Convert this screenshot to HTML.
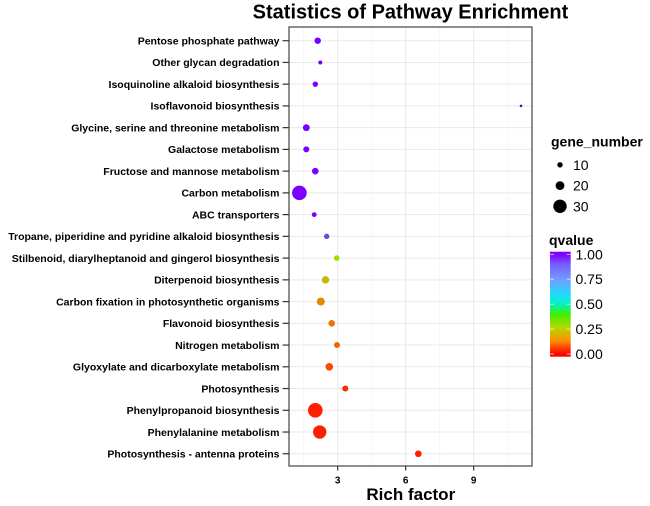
<!DOCTYPE html>
<html>
<head>
<meta charset="utf-8">
<style>
  html,body{margin:0;padding:0;background:#fff;}
  svg{display:block;}
  text{font-family:"Liberation Sans",Arial,Helvetica,sans-serif;fill:#000;}
  .yl{font-size:10.5px;font-weight:bold;text-anchor:end;}
</style>
</head>
<body>
<svg width="650" height="506" viewBox="0 0 650 506" xmlns="http://www.w3.org/2000/svg">
  <defs>
    <linearGradient id="qg" x1="0" y1="0" x2="0" y2="1">
      <stop offset="0" stop-color="#8000ff"/>
      <stop offset="0.025" stop-color="#8000ff"/>
      <stop offset="0.12" stop-color="#7a5cff"/>
      <stop offset="0.274" stop-color="#6fa0ff"/>
      <stop offset="0.41" stop-color="#20dcff"/>
      <stop offset="0.50" stop-color="#00f2c0"/>
      <stop offset="0.60" stop-color="#40f000"/>
      <stop offset="0.725" stop-color="#b8d800"/>
      <stop offset="0.85" stop-color="#ff8c00"/>
      <stop offset="0.975" stop-color="#ff0000"/>
      <stop offset="1" stop-color="#ff0000"/>
    </linearGradient>
  </defs>

  <!-- Title -->
  <text x="410.5" y="18.5" font-size="20" font-weight="bold" text-anchor="middle">Statistics of Pathway Enrichment</text>

  <!-- Panel background -->
  <rect x="289" y="27" width="243" height="439" fill="#fff"/>

  <!-- minor vertical grid -->
  <g stroke="#f3f3f3" stroke-width="0.8">
    <line x1="303.7" y1="27" x2="303.7" y2="466"/>
    <line x1="371.7" y1="27" x2="371.7" y2="466"/>
    <line x1="439.7" y1="27" x2="439.7" y2="466"/>
    <line x1="507.7" y1="27" x2="507.7" y2="466"/>
  </g>
  <!-- major grid -->
  <g stroke="#e9e9e9" stroke-width="1">
    <line x1="337.7" y1="27" x2="337.7" y2="466"/>
    <line x1="405.7" y1="27" x2="405.7" y2="466"/>
    <line x1="473.7" y1="27" x2="473.7" y2="466"/>
    <line x1="289" y1="40.7" x2="532" y2="40.7"/>
    <line x1="289" y1="62.44" x2="532" y2="62.44"/>
    <line x1="289" y1="84.18" x2="532" y2="84.18"/>
    <line x1="289" y1="105.92" x2="532" y2="105.92"/>
    <line x1="289" y1="127.66" x2="532" y2="127.66"/>
    <line x1="289" y1="149.4" x2="532" y2="149.4"/>
    <line x1="289" y1="171.14" x2="532" y2="171.14"/>
    <line x1="289" y1="192.88" x2="532" y2="192.88"/>
    <line x1="289" y1="214.62" x2="532" y2="214.62"/>
    <line x1="289" y1="236.36" x2="532" y2="236.36"/>
    <line x1="289" y1="258.1" x2="532" y2="258.1"/>
    <line x1="289" y1="279.84" x2="532" y2="279.84"/>
    <line x1="289" y1="301.58" x2="532" y2="301.58"/>
    <line x1="289" y1="323.32" x2="532" y2="323.32"/>
    <line x1="289" y1="345.06" x2="532" y2="345.06"/>
    <line x1="289" y1="366.8" x2="532" y2="366.8"/>
    <line x1="289" y1="388.54" x2="532" y2="388.54"/>
    <line x1="289" y1="410.28" x2="532" y2="410.28"/>
    <line x1="289" y1="432.02" x2="532" y2="432.02"/>
    <line x1="289" y1="453.76" x2="532" y2="453.76"/>
  </g>

  <!-- Points -->
  <g>
    <circle cx="317.7" cy="40.7" r="3.2" fill="#7a00ff"/>
    <circle cx="320.3" cy="62.44" r="2.0" fill="#7000f8"/>
    <circle cx="315.3" cy="84.18" r="2.7" fill="#7a00ff"/>
    <circle cx="521" cy="105.92" r="1.3" fill="#5a00d0"/>
    <circle cx="306.3" cy="127.66" r="3.4" fill="#7a00ff"/>
    <circle cx="306.3" cy="149.4" r="3.0" fill="#7a00ff"/>
    <circle cx="315.3" cy="171.14" r="3.3" fill="#7a00ff"/>
    <circle cx="299.4" cy="192.88" r="7.3" fill="#7a00ff"/>
    <circle cx="314.2" cy="214.62" r="2.4" fill="#7a00ff"/>
    <circle cx="326.7" cy="236.36" r="2.7" fill="#6a4ae6"/>
    <circle cx="336.7" cy="258.1" r="2.8" fill="#9be000"/>
    <circle cx="325.5" cy="279.84" r="3.7" fill="#c8b800"/>
    <circle cx="320.8" cy="301.58" r="4.0" fill="#e38a00"/>
    <circle cx="331.7" cy="323.32" r="3.3" fill="#f07200"/>
    <circle cx="337" cy="345.06" r="3.0" fill="#f56000"/>
    <circle cx="329.3" cy="366.8" r="3.8" fill="#ff4800"/>
    <circle cx="345.3" cy="388.54" r="3.0" fill="#ff2800"/>
    <circle cx="315.3" cy="410.28" r="7.3" fill="#ff2000"/>
    <circle cx="319.7" cy="432.02" r="6.7" fill="#ff1e00"/>
    <circle cx="418.3" cy="453.76" r="3.3" fill="#ff1a00"/>
  </g>

  <!-- Panel border -->
  <rect x="289" y="27" width="243" height="439" fill="none" stroke="#444" stroke-width="1.2"/>

  <!-- Y ticks -->
  <g stroke="#333" stroke-width="1.2">
    <line x1="282.5" y1="40.7" x2="289" y2="40.7"/>
    <line x1="282.5" y1="62.44" x2="289" y2="62.44"/>
    <line x1="282.5" y1="84.18" x2="289" y2="84.18"/>
    <line x1="282.5" y1="105.92" x2="289" y2="105.92"/>
    <line x1="282.5" y1="127.66" x2="289" y2="127.66"/>
    <line x1="282.5" y1="149.4" x2="289" y2="149.4"/>
    <line x1="282.5" y1="171.14" x2="289" y2="171.14"/>
    <line x1="282.5" y1="192.88" x2="289" y2="192.88"/>
    <line x1="282.5" y1="214.62" x2="289" y2="214.62"/>
    <line x1="282.5" y1="236.36" x2="289" y2="236.36"/>
    <line x1="282.5" y1="258.1" x2="289" y2="258.1"/>
    <line x1="282.5" y1="279.84" x2="289" y2="279.84"/>
    <line x1="282.5" y1="301.58" x2="289" y2="301.58"/>
    <line x1="282.5" y1="323.32" x2="289" y2="323.32"/>
    <line x1="282.5" y1="345.06" x2="289" y2="345.06"/>
    <line x1="282.5" y1="366.8" x2="289" y2="366.8"/>
    <line x1="282.5" y1="388.54" x2="289" y2="388.54"/>
    <line x1="282.5" y1="410.28" x2="289" y2="410.28"/>
    <line x1="282.5" y1="432.02" x2="289" y2="432.02"/>
    <line x1="282.5" y1="453.76" x2="289" y2="453.76"/>
    <!-- x ticks -->
    <line x1="337.7" y1="466" x2="337.7" y2="470.5"/>
    <line x1="405.7" y1="466" x2="405.7" y2="470.5"/>
    <line x1="473.7" y1="466" x2="473.7" y2="470.5"/>
  </g>

  <!-- Y labels -->
  <g class="yl">
    <text class="yl" x="279.5" y="44.5">Pentose phosphate pathway</text>
    <text class="yl" x="279.5" y="66.24">Other glycan degradation</text>
    <text class="yl" x="279.5" y="87.98">Isoquinoline alkaloid biosynthesis</text>
    <text class="yl" x="279.5" y="109.72">Isoflavonoid biosynthesis</text>
    <text class="yl" x="279.5" y="131.46">Glycine, serine and threonine metabolism</text>
    <text class="yl" x="279.5" y="153.2">Galactose metabolism</text>
    <text class="yl" x="279.5" y="174.94">Fructose and mannose metabolism</text>
    <text class="yl" x="279.5" y="196.68">Carbon metabolism</text>
    <text class="yl" x="279.5" y="218.42">ABC transporters</text>
    <text class="yl" x="279.5" y="240.16">Tropane, piperidine and pyridine alkaloid biosynthesis</text>
    <text class="yl" x="279.5" y="261.9">Stilbenoid, diarylheptanoid and gingerol biosynthesis</text>
    <text class="yl" x="279.5" y="283.64">Diterpenoid biosynthesis</text>
    <text class="yl" x="279.5" y="305.38">Carbon fixation in photosynthetic organisms</text>
    <text class="yl" x="279.5" y="327.12">Flavonoid biosynthesis</text>
    <text class="yl" x="279.5" y="348.86">Nitrogen metabolism</text>
    <text class="yl" x="279.5" y="370.6">Glyoxylate and dicarboxylate metabolism</text>
    <text class="yl" x="279.5" y="392.34">Photosynthesis</text>
    <text class="yl" x="279.5" y="414.08">Phenylpropanoid biosynthesis</text>
    <text class="yl" x="279.5" y="435.82">Phenylalanine metabolism</text>
    <text class="yl" x="279.5" y="457.56">Photosynthesis - antenna proteins</text>
  </g>

  <!-- X labels -->
  <g font-size="10" font-weight="bold" text-anchor="middle">
    <text x="337.7" y="483.5">3</text>
    <text x="405.7" y="483.5">6</text>
    <text x="473.7" y="483.5">9</text>
  </g>
  <text x="410.8" y="500" font-size="17" font-weight="bold" text-anchor="middle">Rich factor</text>

  <!-- Legend: gene_number -->
  <text x="551" y="146.5" font-size="14" font-weight="bold">gene_number</text>
  <circle cx="560" cy="164.8" r="2.7" fill="#000"/>
  <circle cx="560" cy="185.6" r="4.4" fill="#000"/>
  <circle cx="560" cy="206.3" r="6.7" fill="#000"/>
  <g font-size="14">
    <text x="573" y="169.8">10</text>
    <text x="573" y="190.6">20</text>
    <text x="573" y="211.3">30</text>
  </g>

  <!-- Legend: qvalue -->
  <text x="549" y="245" font-size="14" font-weight="bold">qvalue</text>
  <rect x="550" y="251.7" width="20.7" height="105" fill="url(#qg)"/>
  <g stroke="#fff" stroke-width="0.8" opacity="0.8">
    <line x1="550" y1="254.3" x2="554" y2="254.3"/><line x1="566.7" y1="254.3" x2="570.7" y2="254.3"/>
    <line x1="550" y1="279.2" x2="554" y2="279.2"/><line x1="566.7" y1="279.2" x2="570.7" y2="279.2"/>
    <line x1="550" y1="304.2" x2="554" y2="304.2"/><line x1="566.7" y1="304.2" x2="570.7" y2="304.2"/>
    <line x1="550" y1="329.1" x2="554" y2="329.1"/><line x1="566.7" y1="329.1" x2="570.7" y2="329.1"/>
    <line x1="550" y1="354" x2="554" y2="354"/><line x1="566.7" y1="354" x2="570.7" y2="354"/>
  </g>
  <g font-size="14">
    <text x="575.5" y="259.3">1.00</text>
    <text x="575.5" y="284.2">0.75</text>
    <text x="575.5" y="309.2">0.50</text>
    <text x="575.5" y="334.1">0.25</text>
    <text x="575.5" y="359">0.00</text>
  </g>
</svg>
</body>
</html>
